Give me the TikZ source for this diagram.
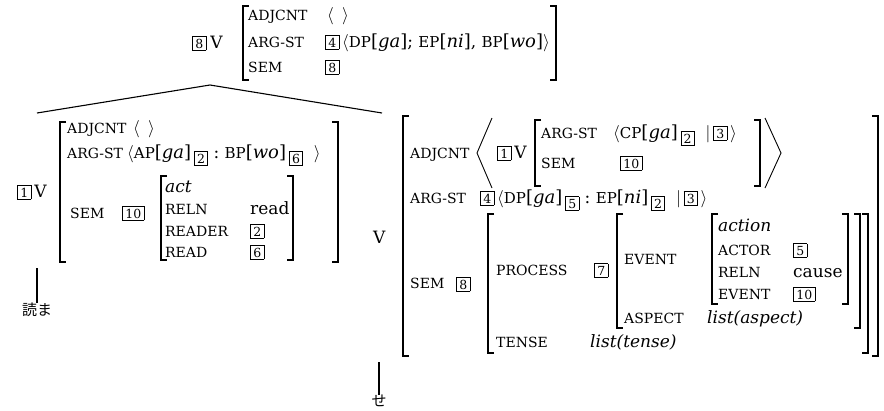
\documentclass[tikz,border=0pt]{standalone}
\usepackage{fontspec}
\setmainfont{DejaVu Serif}
\newfontfamily\jp{Noto Sans CJK JP}
\newcommand\Ft[1]{{\fontsize{14}{16}\selectfont #1}}
\newcommand\Cat[2]{{\fontsize{15}{16}\selectfont #1}{\fontsize{18}{20}\selectfont[\textit{#2}]}}
\newcommand\tagb[1]{{\setlength\fboxsep{1.9pt}\setlength\fboxrule{0.8pt}\fbox{\fontsize{12.5}{12.5}\selectfont\kern0.4pt#1\kern0.4pt}}}
\newcommand\stag[1]{\raisebox{-5pt}{\tagb{#1}}}
\newcommand\LB[3]{\draw[brk] (#1+6,#2) -- (#1,#2) -- (#1,#3) -- (#1+6,#3);}
\newcommand\RB[3]{\draw[brk] (#1-6,#2) -- (#1,#2) -- (#1,#3) -- (#1-6,#3);}
\begin{document}
\begin{tikzpicture}[x=1pt,y=-1pt,
  ft/.style={font=\fontsize{14}{16}\selectfont, inner sep=0pt, anchor=base west},
  vl/.style={font=\fontsize{17}{20}\selectfont, inner sep=0pt, anchor=base west},
  brk/.style={line width=1.1pt},
  edge/.style={line width=1.1pt},
  word/.style={font=\jp\fontsize{15}{17}\selectfont, inner sep=0pt}]
\useasboundingbox (0,0) rectangle (884,410);
% ---------- top node ----------
\node[vl] (top) at (192,48) {\tagb{8}\hspace{4pt}V};
\LB{243}{6}{80}\RB{556}{6}{80}
\node[ft] (tA1) at (248,20) {ADJCNT};
\node[vl] (tA1v) at (327,20) {$\langle\ \,\rangle$};
\node[ft] (tA2) at (248,47) {ARG-ST};
\node[vl] (tA2v) at (325,47) {\tagb{4}\,$\bigl\langle$\Cat{DP}{ga};\ \Cat{EP}{ni},\ \Cat{BP}{wo}$\bigr\rangle$};
\node[ft] (tA3) at (248,72) {SEM};
\node[vl] (tA3v) at (325,72) {\tagb{8}};
% ---------- tree branches ----------
\coordinate (apex) at (210,85);
\coordinate (lend) at (37,113);
\coordinate (rend) at (382,113);
\draw[edge] (lend) -- (apex) -- (rend);
% ---------- left daughter ----------
\node[vl] (lV) at (17,197) {\tagb{1}\hspace{3pt}V};
\LB{60}{122}{262}\RB{338}{122}{262}
\node[ft] (lA1) at (67,133) {ADJCNT};
\node[vl] (lA1v) at (133,133) {$\langle\ \,\rangle$};
\node[ft] (lA2) at (67,158) {ARG-ST};
\node[vl] (lA2v) at (127,158) {$\bigl\langle$\Cat{AP}{ga}\,\stag{2}\ :\ \Cat{BP}{wo}\,\stag{6}\ \ $\bigr\rangle$};
\node[ft] (lA3) at (70,218) {SEM};
\node[vl] (lA3v) at (122,218) {\tagb{10}};
\LB{161}{176}{260}\RB{293}{176}{260}
\node[vl] (lI1) at (165,192) {\textit{act}};
\node[ft] (lI2) at (165,214) {RELN};
\node[vl] (lI2v) at (250,214) {read};
\node[ft] (lI3) at (165,236) {READER};
\node[vl] (lI3v) at (250,236) {\tagb{2}};
\node[ft] (lI4) at (165,257) {READ};
\node[vl] (lI4v) at (250,257) {\tagb{6}};
\coordinate (lstem) at (37,268);
\node[word] (lw) at (37,310) {読ま};
\draw[edge] (lstem) -- (lw.north);
% ---------- right daughter ----------
\node[vl] (rV) at (373,243) {V};
\LB{403}{116}{356}\RB{878}{116}{356}
\node[ft] (rA1) at (410,158) {ADJCNT};
\draw[line width=0.9pt] (492,118) -- (477,153) -- (492,188);
\node[vl] (rT1) at (497,158) {\tagb{1}\hspace{3pt}V};
\LB{535}{120}{186}\RB{760}{120}{186}
\node[ft] (rI1) at (541,138) {ARG-ST};
\node[vl] (rI1v) at (613,138) {$\bigl\langle$\Cat{CP}{ga}\,\stag{2}\ \ $|$\,\tagb{3}\,$\bigr\rangle$};
\node[ft] (rI2) at (541,168) {SEM};
\node[vl] (rI2v) at (620,168) {\tagb{10}};
\draw[line width=0.9pt] (765,118) -- (781,153) -- (765,188);
\node[ft] (rA2) at (410,203) {ARG-ST};
\node[vl] (rA2v) at (480,203) {\tagb{4}\,$\bigl\langle$\Cat{DP}{ga}\,\stag{5}\ :\ \Cat{EP}{ni}\,\stag{2}\ \ $|$\,\tagb{3}\,$\bigr\rangle$};
\node[ft] (rA3) at (410,288) {SEM};
\node[vl] (rA3v) at (456,289) {\tagb{8}};
\LB{488}{214}{353}\RB{868}{214}{353}
\node[ft] (rP) at (496,275) {PROCESS};
\node[vl] (rPv) at (594,275) {\tagb{7}};
\LB{617}{214}{328}\RB{860}{214}{328}
\node[ft] (rE) at (624,264) {EVENT};
\LB{712}{214}{304}\RB{848}{214}{304}
\node[vl] (rX1) at (718,231) {\textit{action}};
\node[ft] (rX2) at (718,255) {ACTOR};
\node[vl] (rX2v) at (793,255) {\tagb{5}};
\node[ft] (rX3) at (718,277) {RELN};
\node[vl] (rX3v) at (793,277) {cause};
\node[ft] (rX4) at (718,299) {EVENT};
\node[vl] (rX4v) at (793,299) {\tagb{10}};
\node[ft] (rAs) at (624,323) {ASPECT};
\node[vl] (rAsv) at (707,323) {\textit{list(aspect)}};
\node[ft] (rTn) at (496,347) {TENSE};
\node[vl] (rTnv) at (590,347) {\textit{list(tense)}};
\coordinate (rstem) at (379,362);
\node[word] (rw) at (379,401) {せ};
\draw[edge] (rstem) -- (rw.north);
\end{tikzpicture}
\end{document}
